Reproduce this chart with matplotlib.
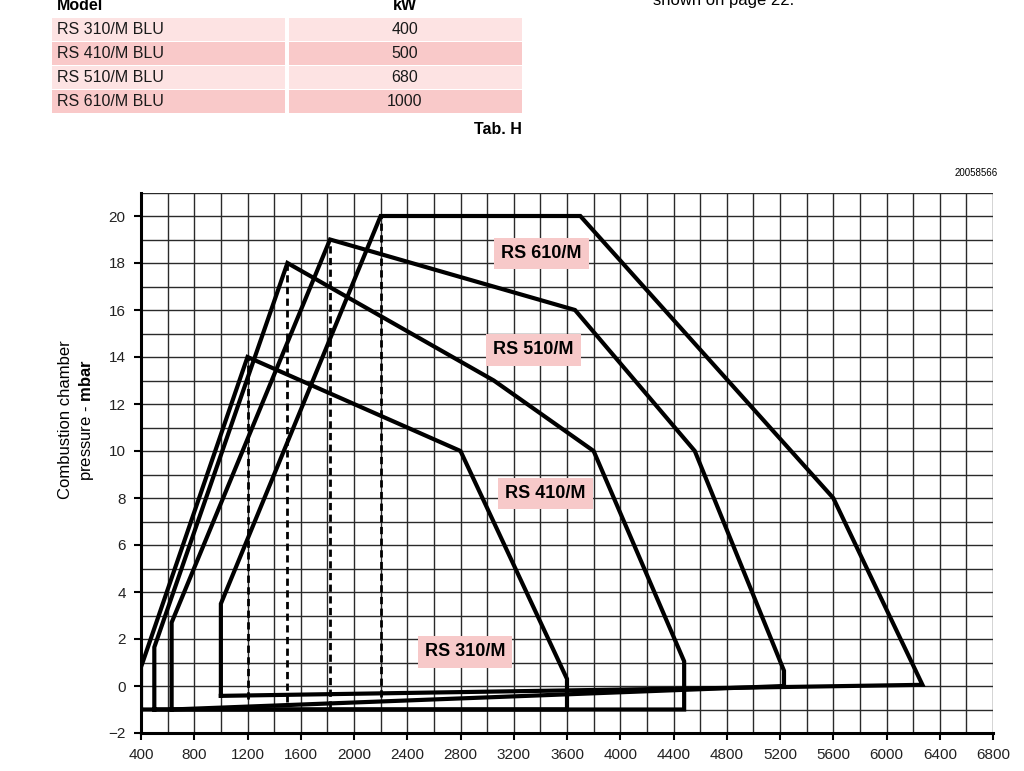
import matplotlib.pyplot as plt
from matplotlib.patches import Rectangle
from matplotlib import font_manager

plt.rcParams['font.family'] = ['Liberation Sans', 'DejaVu Sans']
plt.rcParams['mathtext.fontset'] = 'custom'
plt.rcParams['mathtext.bf'] = 'Liberation Sans:bold'
plt.rcParams['mathtext.rm'] = 'Liberation Sans'

names = {f.name for f in font_manager.fontManager.ttflist}
tick_font = 'Liberation Sans Narrow' if 'Liberation Sans Narrow' in names else 'Liberation Sans'
tick_size = 12 if tick_font == 'Liberation Sans Narrow' else 11

# table data
models = ['RS 310/M BLU', 'RS 410/M BLU', 'RS 510/M BLU', 'RS 610/M BLU']
kw = ['400', '500', '680', '1000']

# firing range polygons (x = kW scale of chart, y = mbar)
rs310_x = [400, 400, 1200, 2800, 3600, 3600, 400]
rs310_y = [-1, 0.8, 14, 10, 0.3, -1, -1]
rs410_x = [500, 500, 1500, 3050, 3800, 4480, 4480, 500]
rs410_y = [-1, 1.65, 18, 13, 10, 1.05, -1, -1]
rs510_x = [630, 630, 1820, 3660, 4560, 5230, 5230, 630]
rs510_y = [-1, 2.7, 19, 16, 10, 0.65, 0.0, -1]
rs610_x = [1000, 1000, 2200, 3700, 5600, 6270, 1000]
rs610_y = [-0.42, 3.5, 20, 20, 8, 0.05, -0.42]

# dashed verticals under the peaks
dash_x = [1200, 1500, 1820, 2200]
dash_top = [14, 18, 19, 20]
dash_bot = [-0.55, -0.7, -0.95, -0.45]

labels = ['RS 610/M', 'RS 510/M', 'RS 410/M', 'RS 310/M']
label_x = [3405, 3345, 3435, 2834]
label_y = [18.4, 14.3, 8.2, 1.45]

fig = plt.figure(figsize=(10.24, 7.71), dpi=100)
ax = fig.add_axes([141 / 1024, 1 - 733 / 771, 852 / 1024, 540.5 / 771])

ax.set_xlim(400, 6800)
ax.set_ylim(-2, 21)
ax.set_xticks(range(400, 6801, 400))
ax.set_xticks(range(400, 6801, 200), minor=True)
ax.set_yticks(range(-2, 21, 2))
ax.set_yticks(range(-2, 22, 1), minor=True)
ax.grid(which='both', color='#2a2a2a', lw=1.0)
ax.set_axisbelow(True)
for s in ['top', 'right']:
    ax.spines[s].set_visible(False)
for s in ['left', 'bottom']:
    ax.spines[s].set_linewidth(2.2)
ax.tick_params(which='major', length=5, width=1.5, labelsize=tick_size, pad=6)
ax.tick_params(which='minor', length=0)
for lab in ax.get_xticklabels() + ax.get_yticklabels():
    lab.set_fontfamily(tick_font)
    lab.set_color('#222222')

for xs, ys in [(rs310_x, rs310_y), (rs410_x, rs410_y), (rs510_x, rs510_y), (rs610_x, rs610_y)]:
    ax.plot(xs, ys, color='black', lw=3.0, solid_joinstyle='miter', zorder=3)

for x, t, b in zip(dash_x, dash_top, dash_bot):
    ax.plot([x, x], [b, t], color='black', lw=2.0, dashes=(2.6, 1.6), zorder=3)

for t, x, y in zip(labels, label_x, label_y):
    ax.text(x, y, t, ha='center', va='center', fontsize=13, fontweight='bold', zorder=4,
            bbox=dict(boxstyle='square,pad=0.4', fc='#f7c9c9', ec='none'))

fig.text(66 / 1024, 1 - 420 / 771, 'Combustion chamber', rotation=90, ha='center', va='center',
         fontsize=12)
fig.text(87 / 1024, 1 - 420 / 771, r'pressure - $\mathbf{mbar}$', rotation=90, ha='center',
         va='center', fontsize=12)

# table at top
row_tops = [18, 42, 66, 90]
row_cols = ['#fde3e3', '#f9c9c9', '#fde3e3', '#f9c9c9']
for i, (m, k) in enumerate(zip(models, kw)):
    top = row_tops[i]
    for x0, x1 in [(52, 285), (289, 522)]:
        fig.patches.append(Rectangle((x0 / 1024, 1 - (top + 22.5) / 771), (x1 - x0) / 1024, 22.5 / 771,
                                     transform=fig.transFigure, fc=row_cols[i], ec='none'))
    fig.text(57 / 1024, 1 - (top + 11.5) / 771, m, ha='left', va='center', fontsize=11.5, color='#1a1a1a')
    fig.text(405 / 1024, 1 - (top + 11.5) / 771, k, ha='center', va='center', fontsize=11.5, color='#1a1a1a')
fig.text(57 / 1024, 1 - 6 / 771, 'Model', ha='left', va='center', fontsize=11.5, fontweight='bold')
fig.text(405 / 1024, 1 - 6 / 771, 'kW', ha='center', va='center', fontsize=11.5, fontweight='bold')
fig.text(522 / 1024, 1 - 129 / 771, 'Tab. H', ha='right', va='center', fontsize=11.5, fontweight='bold')
fig.text(653 / 1024, 1 - 5 / 771, 'shown on page 22.', ha='left', va='baseline', fontsize=12)
fig.text(998 / 1024, 1 - 173 / 771, '20058566', ha='right', va='center', fontsize=7)

fig.savefig('out.png', dpi=100)
